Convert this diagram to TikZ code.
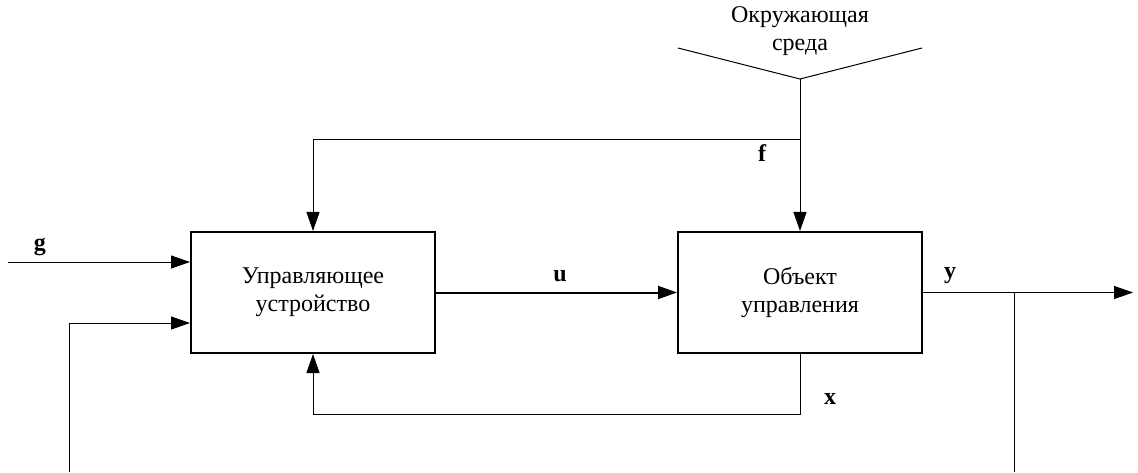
\documentclass[tikz,border=0pt]{standalone}
\usepackage{fontspec}
\setmainfont{Liberation Serif}
\usetikzlibrary{arrows.meta,calc}
\newcommand{\blkfont}{\fontsize{24}{28}\selectfont}
\newcommand{\lblfont}{\fontsize{24}{26}\selectfont\bfseries}
\begin{document}
\begin{tikzpicture}[x=1pt,y=-1pt,
  blk/.style={draw,line width=2pt,minimum width=244pt,minimum height=121pt,align=center,inner sep=0pt,font=\blkfont},
  sig/.style={line width=1pt,-{Triangle[length=19pt,width=13pt]}},
  wire/.style={line width=1pt},
  lbl/.style={font=\lblfont}]
\useasboundingbox (0,0) rectangle (1138,473);

% blocks
\node[blk] (cu) at (313,292.5) {Управляющее\\устройство};
\node[blk] (obj) at (800,292.5) {Объект\\управления};

% environment funnel
\node[align=center,font=\blkfont] (envtxt) at (800,31) {Окружающая\\среда};
\coordinate (envL) at (678,48);
\coordinate (env) at (800,79);
\coordinate (envR) at (922,48);
\draw[wire] (envL) -- (env) -- (envR);

% disturbance f
\coordinate (fj) at (800,140);
\draw[sig] (env) -- (obj.north);
\draw[sig] (fj) -| (cu.north);
\node[lbl] (f) at (762,153) {f};

% set point g
\coordinate (gin) at (8,262);
\draw[sig] (gin) -- (gin -| cu.west);
\node[lbl] (g) at (40,247) {g};

% control u
\draw[sig,line width=2pt] (cu.east) -- (obj.east -| obj.west);
\node[lbl] (u) at (560,276) {u};

% output y with branch
\coordinate (yout) at (1133,292.5);
\coordinate (ybr) at (1014,472);
\draw[sig] (obj.east) -- (yout);
\draw[wire] (ybr |- obj.east) -- (ybr);
\node[lbl] (y) at (950,276) {y};

% state x feedback
\draw[sig] (obj.south) -- ++(0,60) -| (cu.south);
\node[lbl] (x) at (830,399) {x};

% outer feedback input
\coordinate (fbot) at (69,472);
\coordinate (fin) at (69,323);
\draw[sig] (fbot) -- (fin) -- (fin -| cu.west);
\end{tikzpicture}
\end{document}
